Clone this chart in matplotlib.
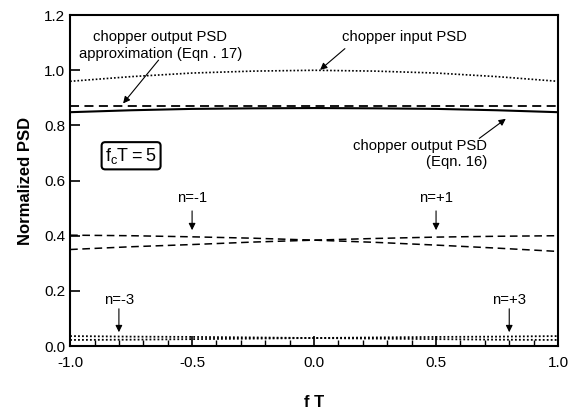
import matplotlib.pyplot as plt
from matplotlib.ticker import MultipleLocator

plt.rcParams['font.family'] = ['Liberation Sans', 'DejaVu Sans']
plt.rcParams['axes.unicode_minus'] = False

ft = [-1.0, -0.75, -0.5, -0.25, 0.0, 0.25, 0.5, 0.75, 1.0]
input_psd = [0.960, 0.977, 0.990, 0.997, 1.000, 0.997, 0.990, 0.977, 0.960]
approx_psd = [0.870, 0.870, 0.870, 0.870, 0.870, 0.870, 0.870, 0.870, 0.870]
output_psd = [0.848, 0.855, 0.860, 0.862, 0.863, 0.862, 0.860, 0.855, 0.848]
n_m1 = [0.402, 0.400, 0.396, 0.391, 0.384, 0.376, 0.366, 0.355, 0.343]
n_p1 = [0.350, 0.360, 0.368, 0.377, 0.384, 0.390, 0.395, 0.398, 0.400]
n_m3 = [0.036, 0.034, 0.033, 0.031, 0.029, 0.027, 0.025, 0.023, 0.022]
n_p3 = [0.022, 0.023, 0.025, 0.027, 0.029, 0.031, 0.033, 0.034, 0.036]

fig = plt.figure(figsize=(5.7, 4.09), dpi=100)
ax = fig.add_axes([0.123, 0.154, 0.856, 0.809])

ax.plot(ft, input_psd, color='black', linestyle=(0, (1, 1.2)), linewidth=1.2)
ax.plot(ft, approx_psd, color='black', linestyle=(0, (5, 3)), linewidth=1.3)
ax.plot(ft, output_psd, color='black', linestyle='-', linewidth=1.5)
ax.plot(ft, n_m1, color='black', linestyle=(0, (5, 3)), linewidth=1.1)
ax.plot(ft, n_p1, color='black', linestyle=(0, (5, 3)), linewidth=1.1)
ax.plot(ft, n_m3, color='black', linestyle=(0, (1, 1.2)), linewidth=1.3)
ax.plot(ft, n_p3, color='black', linestyle=(0, (1, 1.2)), linewidth=1.3)

ax.set_xlim(-1.0, 1.0)
ax.set_ylim(0.0, 1.2)
ax.xaxis.set_major_locator(MultipleLocator(0.5))
ax.xaxis.set_minor_locator(MultipleLocator(0.1))
ax.yaxis.set_major_locator(MultipleLocator(0.2))
ax.xaxis.set_major_formatter('{x:.1f}')
ax.yaxis.set_major_formatter('{x:.1f}')
ax.tick_params(axis='both', which='major', direction='in', length=7, width=1.2,
               labelsize=11, top=False, right=False)
ax.tick_params(axis='x', which='major', pad=7)
ax.tick_params(axis='x', which='minor', direction='in', length=4, width=1.0)
for s in ax.spines.values():
    s.set_linewidth(1.5)

ax.set_xlabel('f T', fontsize=12, fontweight='bold', labelpad=18)
ax.set_ylabel('Normalized PSD', fontsize=12, fontweight='bold', labelpad=8)

arrow = dict(arrowstyle='-|>', color='black', linewidth=0.8, mutation_scale=10)
fs = 10.7

ax.text(-0.63, 1.09, 'chopper output PSD\napproximation (Eqn . 17)',
        ha='center', va='center', fontsize=fs)
ax.annotate('', xy=(-0.79, 0.872), xytext=(-0.63, 1.045), arrowprops=arrow)
ax.text(0.37, 1.12, 'chopper input PSD', ha='center', va='center', fontsize=fs)
ax.annotate('', xy=(0.016, 0.995), xytext=(0.135, 1.085), arrowprops=arrow)
ax.text(0.71, 0.695, 'chopper output PSD\n(Eqn. 16)', ha='right', va='center',
        fontsize=fs, multialignment='right')
ax.annotate('', xy=(0.795, 0.83), xytext=(0.668, 0.747), arrowprops=arrow)

ax.text(-0.75, 0.69, r'$\mathregular{f_cT = 5}$', ha='center', va='center',
        fontsize=13,
        bbox=dict(boxstyle='round,pad=0.2', facecolor='white', edgecolor='black',
                  linewidth=1.5))

for label, x in [('n=-1', -0.5), ('n=+1', 0.5)]:
    ax.text(x, 0.537, label, ha='center', va='center', fontsize=fs)
    ax.annotate('', xy=(x, 0.41), xytext=(x, 0.50), arrowprops=arrow)
for label, x in [('n=-3', -0.8), ('n=+3', 0.8)]:
    ax.text(x, 0.167, label, ha='center', va='center', fontsize=fs)
    ax.annotate('', xy=(x, 0.04), xytext=(x, 0.145), arrowprops=arrow)

fig.savefig('out.png', dpi=100)
